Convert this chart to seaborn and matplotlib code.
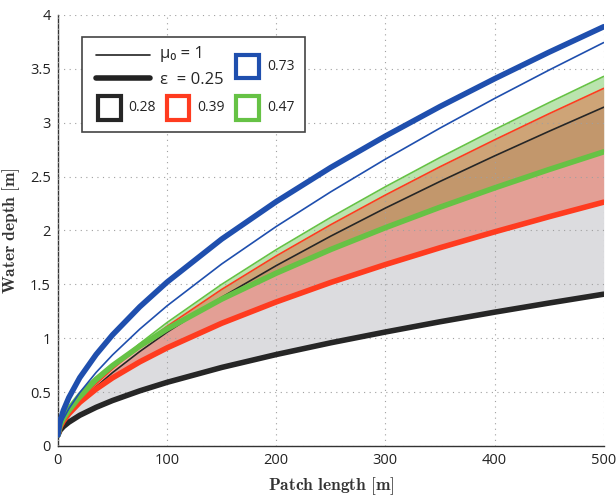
import matplotlib
matplotlib.use("Agg")
import matplotlib.pyplot as plt
import seaborn as sns
from matplotlib.lines import Line2D
from matplotlib.patches import Rectangle

# patch length [m]
patch_length = [0, 2, 5, 10, 20, 35, 50, 75, 100, 150, 200, 250, 300, 350, 400, 450, 500]

# water depth [m], thick lines: epsilon = 0.25
eps_028 = [0.10, 0.145, 0.179, 0.220, 0.284, 0.358, 0.421, 0.511, 0.590, 0.728, 0.848, 0.957, 1.057, 1.152, 1.241, 1.326, 1.408]
eps_039 = [0.10, 0.175, 0.230, 0.298, 0.404, 0.527, 0.631, 0.780, 0.910, 1.138, 1.336, 1.517, 1.683, 1.839, 1.986, 2.127, 2.262]
eps_047 = [0.10, 0.191, 0.259, 0.341, 0.469, 0.619, 0.745, 0.926, 1.085, 1.362, 1.603, 1.823, 2.025, 2.215, 2.394, 2.565, 2.729]
eps_073 = [0.10, 0.231, 0.329, 0.448, 0.633, 0.848, 1.030, 1.291, 1.520, 1.919, 2.267, 2.584, 2.875, 3.149, 3.407, 3.654, 3.890]

# thin lines: mu0 = 1
mu_028 = [0.10, 0.157, 0.211, 0.282, 0.400, 0.549, 0.680, 0.876, 1.055, 1.379, 1.673, 1.947, 2.207, 2.454, 2.691, 2.920, 3.143]
mu_039 = [0.10, 0.160, 0.217, 0.292, 0.417, 0.574, 0.713, 0.921, 1.110, 1.452, 1.763, 2.053, 2.328, 2.590, 2.840, 3.083, 3.318]
mu_047 = [0.10, 0.162, 0.221, 0.299, 0.428, 0.591, 0.734, 0.950, 1.145, 1.499, 1.821, 2.121, 2.405, 2.676, 2.935, 3.186, 3.429]
mu_073 = [0.10, 0.181, 0.252, 0.345, 0.495, 0.682, 0.844, 1.084, 1.300, 1.688, 2.036, 2.358, 2.661, 2.949, 3.224, 3.488, 3.743]

labels = ["0.28", "0.39", "0.47", "0.73"]
colors = ["#262626", "#ff3b1f", "#66c245", "#1f4fae"]

sns.set_style("white")
plt.rcParams["font.family"] = ["Open Sans", "DejaVu Sans"]
plt.rcParams["mathtext.fontset"] = "cm"

fig = plt.figure(figsize=(6.16, 4.96), dpi=100)
ax = fig.add_axes([0.094, 0.101, 0.886, 0.869])

# bands between the two assumptions
ax.fill_between(patch_length, eps_028, mu_028, color="#dcdcdf", lw=0, zorder=1)
ax.fill_between(patch_length, eps_047, mu_047, color="#5cc040", alpha=0.42, lw=0, zorder=1)
ax.fill_between(patch_length, eps_039, mu_039, color="#f03c1e", alpha=0.38, lw=0, zorder=1)

thick = [eps_028, eps_039, eps_047, eps_073]
thin = [mu_028, mu_039, mu_047, mu_073]
for e, m, c in zip(thick, thin, colors):
    sns.lineplot(x=patch_length, y=e, color=c, lw=4, ax=ax, zorder=3)
    sns.lineplot(x=patch_length, y=m, color=c, lw=1.2, ax=ax, zorder=3)

ax.set_xlim(0, 500)
ax.set_ylim(0, 4)
ax.set_xticks([0, 100, 200, 300, 400, 500])
ax.set_yticks([0, 0.5, 1, 1.5, 2, 2.5, 3, 3.5, 4])
ax.set_yticklabels(["0", "0.5", "1", "1.5", "2", "2.5", "3", "3.5", "4"])
ax.grid(True, linestyle=(0, (1, 4)), color="#a0a0a0", lw=0.8, zorder=2)
ax.set_axisbelow(False)
for s in ["top", "right"]:
    ax.spines[s].set_visible(False)
for s in ["left", "bottom"]:
    ax.spines[s].set_color("#333333")
    ax.spines[s].set_linewidth(1.0)
ax.tick_params(direction="in", length=4, width=0.8, colors="#333333",
               labelsize=10.5, labelcolor="#222222", pad=5)

ax.set_xlabel(r"$\mathbf{Patch\ length\ [m]}$", fontsize=12.5, color="#333333")
ax.set_ylabel(r"$\mathbf{Water\ depth\ [m]}$", fontsize=12.5, color="#333333")
ax.xaxis.set_label_coords(0.5, -0.068)
ax.yaxis.set_label_coords(-0.066, 0.5)

# legend drawn by hand in axes fraction
tr = ax.transAxes
box = Rectangle((0.0435, 0.729), 0.41, 0.219, transform=tr, facecolor="white",
                edgecolor="#444444", lw=1.2, zorder=5)
ax.add_patch(box)
ax.add_line(Line2D([0.07, 0.169], [0.907, 0.907], transform=tr, color="#222222", lw=1.2, zorder=6))
ax.add_line(Line2D([0.07, 0.169], [0.853, 0.853], transform=tr, color="#222222", lw=4, zorder=6))
ax.text(0.187, 0.909, "μ₀ = 1", transform=tr, va="center", fontsize=12, zorder=6)
ax.text(0.187, 0.850, "ε  = 0.25", transform=tr, va="center", fontsize=12, zorder=6)

sq_w, sq_h = 0.042, 0.054
squares = [(0.073, 0.757, 0), (0.199, 0.757, 1), (0.327, 0.757, 2), (0.327, 0.853, 3)]
for sx, sy, i in squares:
    ax.add_patch(Rectangle((sx, sy), sq_w, sq_h, transform=tr, facecolor="white",
                           edgecolor=colors[i], lw=3, zorder=6))
    ax.text(sx + sq_w + 0.014, sy + sq_h / 2, labels[i], transform=tr, va="center",
            fontsize=10, color="#222222", zorder=6)

fig.savefig("out.png", dpi=100)
